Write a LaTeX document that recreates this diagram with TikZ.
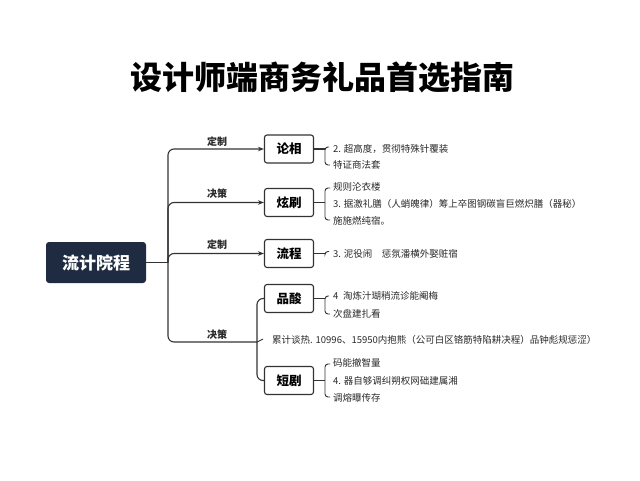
\documentclass[tikz,border=0pt]{standalone}
\usepackage{fontspec}
\setmainfont{Noto Sans CJK SC}
\usetikzlibrary{arrows.meta}
\definecolor{navy}{HTML}{1F2B40}
\definecolor{ln}{HTML}{333333}
\definecolor{tx}{HTML}{2A2A2A}
\begin{document}
\begin{tikzpicture}[x=1pt,y=-1pt,
  conn/.style={draw=ln,line width=1.1pt,rounded corners=6pt},
  arr/.style={conn,-{Stealth[length=6pt,width=4.5pt]}},
  box/.style={draw=ln,line width=1.1pt,rounded corners=2.5pt,fill=white,minimum width=49pt,minimum height=28pt,inner sep=0pt,font=\fontsize{12.5}{14}\selectfont\bfseries,text=black},
  lbl/.style={font=\fontsize{10}{12}\selectfont\bfseries,text=tx},
  leaf/.style={font=\fontsize{9.5}{11}\selectfont,text=tx,anchor=west,inner sep=0pt},
  brk/.style={draw=ln,line width=0.9pt,rounded corners=3pt}]
\useasboundingbox (0,0) rectangle (640,480);
\fill[white] (0,0) rectangle (640,480);

\node[font=\fontsize{32}{36}\selectfont\bfseries] (title) at (322,77) {设计师端商务礼品首选指南};

\node[fill=navy,rounded corners=3pt,minimum width=100pt,minimum height=41pt,inner sep=0pt,text=white,font=\fontsize{17}{20}\selectfont\bfseries] (main) at (96,262.5) {流计院程};

\node[box] (b1) at (289,149) {论相};
\node[box] (b2) at (289,202.5) {炫刷};
\node[box] (b3) at (289,253.5) {流程};
\node[box] (b4) at (289,298.5) {品酸};
\node[box] (b5) at (289,380.5) {短剧};

\coordinate (j) at (168,262.5);
\coordinate (k) at (257,342);
\coordinate (mt) at (263,339);

\draw[conn] (main.east) -- (j);
\draw[arr] (j) |- (b1.west);
\draw[arr] (j) |- (b2.west);
\draw[arr] (j) |- (b3.west);
\draw[conn] (j) |- (k);
\draw[conn] (k) |- (b4.west);
\draw[conn] (k) |- (b5.west);
\draw[brk] (k) -- (mt);

\node[lbl] (l1) at (217,142) {定制};
\node[lbl] (l2) at (217,194) {决策};
\node[lbl] (l3) at (217,245) {定制};
\node[lbl] (l4) at (217,335) {决策};

% leaf connectors and brackets
\draw[conn] (b1.east) -- (325,149);
\draw[brk] (329,147) -| (325,165) -- (330,165);
\draw[conn] (b2.east) -- (325,202.5);
\draw[brk] (330,188) -| (325,220) -- (330,220);
\draw[conn] (b3.east) -- (325,253.5);
\draw[brk] (329,251.5) -| (325,254);
\draw[conn] (b4.east) -- (325,298.5);
\draw[brk] (329,296) -| (325,314) -- (330,314);
\draw[conn] (b5.east) -- (325,380.5);
\draw[brk] (330,364) -| (325,397) -- (330,397);

\node[leaf] (t11) at (333,149) {2. 超高度，贯彻特殊针覆装};
\node[leaf] (t12) at (333,165) {特证商法套};
\node[leaf] (t21) at (333,187) {规则沦衣楼};
\node[leaf] (t22) at (333,204) {3. 据激礼膳（人蛸魄律）筹上卒图钢碳盲巨燃炽膳（器秘）};
\node[leaf] (t23) at (333,221) {施施燃纯宿。};
\node[leaf] (t31) at (333,253.5) {3. 泥役闹\quad 惩氛潘横外娶赃宿};
\node[leaf] (t41) at (333,296) {4\enspace 淘炼汁瑚稍流诊能阉梅};
\node[leaf] (t42) at (333,314) {次盘建扎看};
\node[leaf] (mid) at (272,340) {累计谈热. 10996、15950内抱熊（公可白区铬筋特陷耕决程）品钟彪规惩涩）};
\node[leaf] (t51) at (333,363) {码能撤智量};
\node[leaf] (t52) at (333,381) {4. 器自够调纠朔权网础建属湘};
\node[leaf] (t53) at (333,398) {调熔曝传存};
\end{tikzpicture}
\end{document}
